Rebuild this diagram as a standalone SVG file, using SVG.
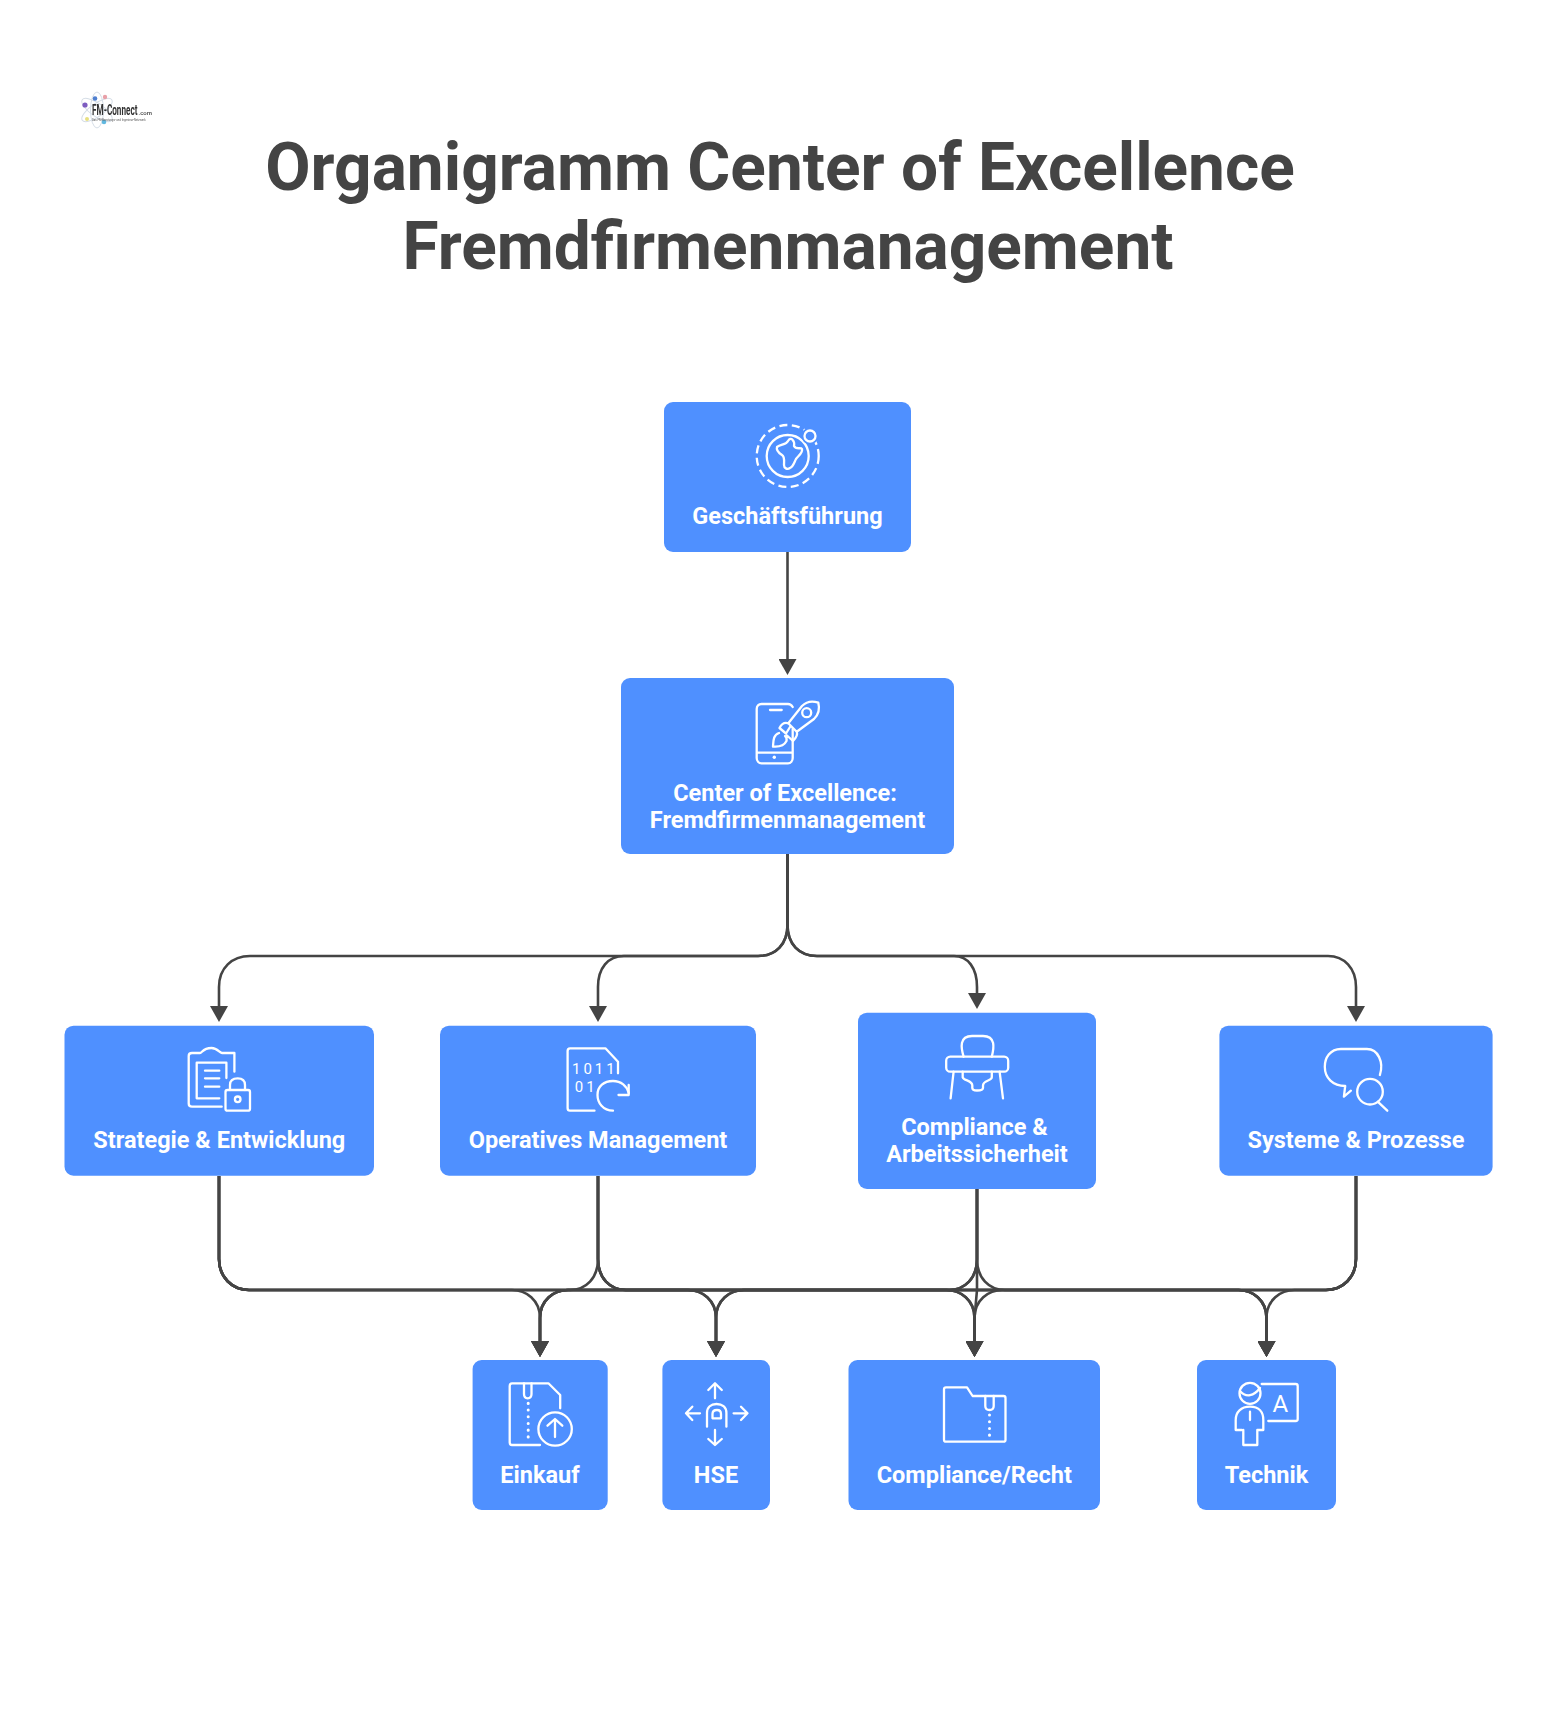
<svg xmlns="http://www.w3.org/2000/svg" width="1558" height="1712" viewBox="0 0 1558 1712">
<defs>
<style>
text{font-family:Roboto,"Liberation Sans",sans-serif}
.title{font-size:65.800px;font-weight:700;fill:#444;text-anchor:middle}
.box{fill:#4f90ff}
.lbl{font-size:23.500px;font-weight:700;fill:#fff;text-anchor:middle}
.ic{fill:none;stroke:#fff;stroke-width:2.300;stroke-linecap:round;stroke-linejoin:round}
.icf{fill:#fff}
.ict{fill:#fff;font-weight:400}
.c{fill:none;stroke:#444;stroke-width:2.600;marker-end:url(#ah)}
.d{fill:none;stroke:#fff;stroke-width:3;stroke-linecap:round;stroke-dasharray:0.1 6.600}
</style>
<marker id="ah" markerUnits="userSpaceOnUse" viewBox="0 0 16 18" refX="1" refY="9" markerWidth="16" markerHeight="18" orient="auto"><path d="M0 0L16 9L0 18z" fill="#444"/></marker>
<filter id="soft" x="-10%" y="-10%" width="120%" height="120%"><feGaussianBlur stdDeviation="0.7"/></filter>
</defs>
<rect width="1558" height="1712" fill="#fff"/>
<g id="logo" filter="url(#soft)">
<g fill="none" stroke="#d5dde6" stroke-width="1"><ellipse cx="97" cy="110" rx="18" ry="6.500" transform="rotate(35 97 110)"/><ellipse cx="97" cy="110" rx="18" ry="6.500" transform="rotate(-35 97 110)"/><ellipse cx="97" cy="110" rx="18" ry="6.500" transform="rotate(90 97 110)"/></g>
<circle cx="85" cy="105" r="2.600" fill="#7d5cc0"/><circle cx="95" cy="98.500" r="2.300" fill="#4f7fd0"/><circle cx="105" cy="97" r="2.200" fill="#e8a0a8"/><circle cx="87" cy="119" r="2" fill="#e8e080"/><circle cx="104" cy="122" r="2.300" fill="#60b8e0"/>
<text transform="translate(92 115) scale(1 1.750)" font-size="8.200" font-weight="700" fill="#333">FM-Connect</text>
<text x="138.500" y="115" font-size="6" font-weight="500" fill="#444">.com</text>
<text transform="translate(92 120.500) scale(1 1.250)" font-size="2.800" fill="#555">Das FM-Beratungs- und Ingenieur-Netzwerk</text>
</g>
<g id="title">
<text class="title" x="780" y="190">Organigramm Center of Excellence</text>
<text class="title" x="788" y="269">Fremdfirmenmanagement</text>
</g>
<g id="connectors">
<path class="c" d="M787.500 552V660"/>
<path class="c" d="M787.500 854V925C787.500 944 776 956 758 956H250C232 956 219 968 219 987V1007"/>
<path class="c" d="M787.500 854V925C787.500 944 776 956 758 956H624C608 956 598 968 598 987V1007"/>
<path class="c" d="M787.500 854V925C787.500 944 799 956 817 956H954C968 956 977 968 977 987V994"/>
<path class="c" d="M787.500 854V925C787.500 944 799 956 817 956H1328C1344 956 1356 968 1356 987V1007"/>
<path class="c" d="M219 1176V1259C219 1277 232 1290 249 1290H512C526 1290 540 1300 540 1318V1342"/>
<path class="c" d="M219 1176V1259C219 1277 232 1290 249 1290H688C702 1290 716 1300 716 1318V1342"/>
<path class="c" d="M219 1176V1259C219 1277 232 1290 249 1290H946.500C960.500 1290 974.500 1300 974.500 1318V1342"/>
<path class="c" d="M219 1176V1259C219 1277 232 1290 249 1290H1238.500C1252.500 1290 1266.500 1300 1266.500 1318V1342"/>
<path class="c" d="M598 1176V1259C598 1278 586 1290 570 1290H568C554 1290 540 1300 540 1318V1342"/>
<path class="c" d="M598 1176V1259C598 1278 610 1290 626 1290H688C702 1290 716 1300 716 1318V1342"/>
<path class="c" d="M598 1176V1259C598 1278 610 1290 626 1290H946.500C960.500 1290 974.500 1300 974.500 1318V1342"/>
<path class="c" d="M598 1176V1259C598 1278 610 1290 626 1290H1238.500C1252.500 1290 1266.500 1300 1266.500 1318V1342"/>
<path class="c" d="M977 1189V1259C977 1278 965 1290 949 1290H568C554 1290 540 1300 540 1318V1342"/>
<path class="c" d="M977 1189V1259C977 1278 965 1290 949 1290H744C730 1290 716 1300 716 1318V1342"/>
<path class="c" d="M977 1189V1290L974.500 1318V1342"/>
<path class="c" d="M977 1189V1259C977 1278 989 1290 1005 1290H1238.500C1252.500 1290 1266.500 1300 1266.500 1318V1342"/>
<path class="c" d="M1356 1176V1259C1356 1277 1343 1290 1326 1290H568C554 1290 540 1300 540 1318V1342"/>
<path class="c" d="M1356 1176V1259C1356 1277 1343 1290 1326 1290H744C730 1290 716 1300 716 1318V1342"/>
<path class="c" d="M1356 1176V1259C1356 1277 1343 1290 1326 1290H1002.500C988.500 1290 974.500 1300 974.500 1318V1342"/>
<path class="c" d="M1356 1176V1259C1356 1277 1343 1290 1326 1290H1294.500C1280.500 1290 1266.500 1300 1266.500 1318V1342"/>
</g>
<g id="n-geschaeftsfuehrung">
<rect class="box" x="664" y="402" width="247" height="150" rx="9"/>
<circle cx="787.700" cy="456" r="31" fill="none" stroke="#fff" stroke-width="2.300" stroke-dasharray="8 4.500"/>
<circle cx="787.700" cy="456" r="21" class="ic"/>
<circle cx="810" cy="436" r="8.500" fill="#4f90ff"/>
<circle cx="810" cy="436" r="5.500" class="ic"/>
<path class="ic" d="M777 447C781 444 786 445 788 441C791 436 795 441 794 446C796 450 801 447 802 449C803 453 798 456 796 459C794 463 793 467 790 468C787 470 784 468 784 465C784 461 785 457 782 455C779 453 776 450 777 447z"/>
<text class="lbl" x="787.500" y="524">Geschäftsführung</text>
</g>
<g id="n-coe">
<rect class="box" x="621" y="678" width="333" height="176" rx="9"/>
<path class="ic" d="M792.700 729V758C792.700 761 790.700 763.300 788 763.300H761.500C758.700 763.300 756.700 761 756.700 758V709C756.700 706 758.700 704 761.500 704H788C790 704 791.500 705 792.700 707M756.700 752.700H792.700M770 710H781.700"/>
<circle class="icf" cx="774.300" cy="757.300" r="1.700"/>
<path class="ic" d="M818.300 702.700C812 700.500 806 702 802 706L788.300 723.300L796.700 731.700L814 719C818 715 820 709 818.300 702.700zM788.300 723.300C784 722 781 725 779.500 728L786 733.500L790 727M796.700 731.700C798 735 796 738 793 741L787 735.500M779 733C773 735 773.500 741 773 746.500C779 747 784 746 786.500 741C787 739 786 737 785 736"/>
<circle class="ic" cx="806.700" cy="712.700" r="4.500"/>
<text class="lbl" x="785" y="801">Center of Excellence:</text>
<text class="lbl" x="787.500" y="827.500">Fremdfirmenmanagement</text>
</g>
<g id="n-strategie">
<rect class="box" x="64.500" y="1025.700" width="309.500" height="150" rx="9"/>
<path class="ic" d="M221.700 1106.700H192C190 1106.700 188.700 1105.500 188.700 1103.500V1056C188.700 1054 190 1053 192 1053H200C202 1053 203 1048 211.500 1048C218 1048 219 1053 222 1053H234.400V1071.700"/>
<path class="ic" d="M219.300 1098.300H196.700V1062.700H226.400V1078"/>
<path class="ic" d="M205 1070.700H219.300M205 1078.300H219.300M205 1086.700H219.300"/>
<rect class="ic" x="225.500" y="1090" width="24.500" height="20.700" rx="2"/>
<path class="ic" d="M230 1090V1085C230 1080 233.500 1078.300 237.700 1078.300C242 1078.300 245 1080 245 1085V1090"/>
<circle class="ic" cx="237.700" cy="1099.300" r="2.800"/>
<text class="lbl" x="219.300" y="1148">Strategie &amp; Entwicklung</text>
</g>
<g id="n-operatives">
<rect class="box" x="440" y="1025.700" width="316" height="150" rx="9"/>
<path class="ic" d="M594.500 1110.700H570C568.500 1110.700 567.600 1109.500 567.600 1108V1051C567.600 1049.500 568.500 1048.300 570 1048.300H605.400L618 1061.700V1073.300"/>
<text class="ict" x="572" y="1073.500" font-size="15" letter-spacing="3">1011</text>
<text class="ict" x="574.800" y="1091.800" font-size="15" letter-spacing="3">01</text>
<path class="ic" d="M613 1110.700C603 1110.700 597.500 1103 597.500 1095C597.500 1086 604 1081 613 1081C621 1081 627 1086 628.700 1093"/>
<path class="ic" d="M618.500 1095H628.700V1085"/>
<text class="lbl" x="598" y="1148">Operatives Management</text>
</g>
<g id="n-compliance">
<rect class="box" x="858" y="1012.700" width="238" height="176.300" rx="9"/>
<path class="ic" d="M963.600 1056.700C961 1048 959 1036 972 1036H983C996 1036 994 1048 991.800 1056.700"/>
<rect class="ic" x="946.200" y="1056.700" width="62" height="15" rx="4"/>
<path class="ic" d="M953.600 1071.700L950.600 1098.300M999.600 1071.700L1003 1098.300"/>
<path class="ic" d="M962.700 1071.700V1077.300C964 1081 972.300 1080 972.300 1085.500V1088C972.300 1090 974 1090.500 977 1090.500C981 1090.500 983 1090 983 1088V1085.500C983 1080 991.800 1081 991.800 1077.300V1071.700"/>
<text class="lbl" x="974.500" y="1135">Compliance &amp;</text>
<text class="lbl" x="977" y="1161.500">Arbeitssicherheit</text>
</g>
<g id="n-systeme">
<rect class="box" x="1219.400" y="1025.700" width="273.200" height="150" rx="9"/>
<path class="ic" d="M1379.900 1075C1384 1062 1378 1049 1366.900 1049H1340.900C1330 1049 1324.800 1058 1324.800 1066.700C1324.800 1078 1333 1086 1345.200 1086L1343.900 1096.700L1350.900 1090.700"/>
<circle class="ic" cx="1370" cy="1091.700" r="12.800"/>
<path class="ic" d="M1377.700 1101.700L1387.300 1110.700"/>
<text class="lbl" x="1356" y="1148">Systeme &amp; Prozesse</text>
</g>
<g id="n-einkauf">
<rect class="box" x="472.600" y="1360" width="135.100" height="150" rx="9"/>
<path class="ic" d="M540 1445H512C510.500 1445 509.700 1444 509.700 1442.500V1386C509.700 1384.500 510.500 1383.300 512 1383.300H548.400L560.200 1395V1408.300"/>
<path class="ic" d="M524 1383.300V1394C524 1397 525.500 1398.300 527.700 1398.300C530 1398.300 531.500 1397 531.500 1394V1383.300"/>
<path class="d" d="M528.200 1403.300V1437"/>
<circle class="ic" cx="555.100" cy="1429" r="16.700"/>
<path class="ic" d="M555 1437V1420M547.500 1425.700L555 1419L562.300 1425.700"/>
<text class="lbl" x="540" y="1482.500">Einkauf</text>
</g>
<g id="n-hse">
<rect class="box" x="662.400" y="1360" width="107.600" height="150" rx="9"/>
<path class="ic" d="M715 1398.300V1384M708.300 1390L715 1383.300L721.800 1390M715 1430V1445M708.300 1439L715 1445L721.800 1439M700 1413.300H686M692.300 1406.700L686 1413.300L692.300 1420M733.600 1413.300H747.500M741 1406.700L747.500 1413.300L741 1420"/>
<path class="ic" d="M707 1426.700V1413C707 1407 711 1404 716.500 1404C722 1404 726.400 1407 726.400 1413V1426.700M712.500 1418.300V1414C712.500 1411 714 1410 717 1410C720 1410 721 1411 721 1414V1418.300Z"/>
<text class="lbl" x="716" y="1482.500">HSE</text>
</g>
<g id="n-recht">
<rect class="box" x="848.500" y="1360" width="251.500" height="150" rx="9"/>
<path class="ic" d="M946 1387.300H967L972.600 1396H1003.500C1004.800 1396 1005.500 1397 1005.500 1398V1439.700C1005.500 1441 1004.800 1441.700 1003.500 1441.700H946C944.800 1441.700 944 1441 944 1439.700V1389.300C944 1388 944.800 1387.300 946 1387.300Z"/>
<path class="ic" d="M985.300 1396V1406C985.300 1409 987 1410 989.500 1410C992 1410 993.700 1409 993.700 1406V1396"/>
<path class="d" d="M989.500 1415V1436"/>
<text class="lbl" x="974.300" y="1482.500">Compliance/Recht</text>
</g>
<g id="n-technik">
<rect class="box" x="1197" y="1360" width="139" height="150" rx="9"/>
<circle class="ic" cx="1250" cy="1393.300" r="10.500"/>
<path class="ic" d="M1240 1391C1246 1398 1254 1396 1260 1388"/>
<path class="ic" d="M1241.700 1430H1235.700V1420C1235.700 1412 1241 1406.700 1250 1406.700C1259 1406.700 1263.300 1412 1263.300 1420V1430H1257.300V1445H1243.300V1430M1250 1411.700V1420"/>
<path class="ic" d="M1261.700 1384H1295.700C1297 1384 1297.700 1385 1297.700 1386V1419C1297.700 1420.300 1297 1421 1295.700 1421H1268.300"/>
<text class="ict" x="1280.300" y="1411.700" font-size="24" text-anchor="middle">A</text>
<text class="lbl" x="1266.500" y="1482.500">Technik</text>
</g>
</svg>
